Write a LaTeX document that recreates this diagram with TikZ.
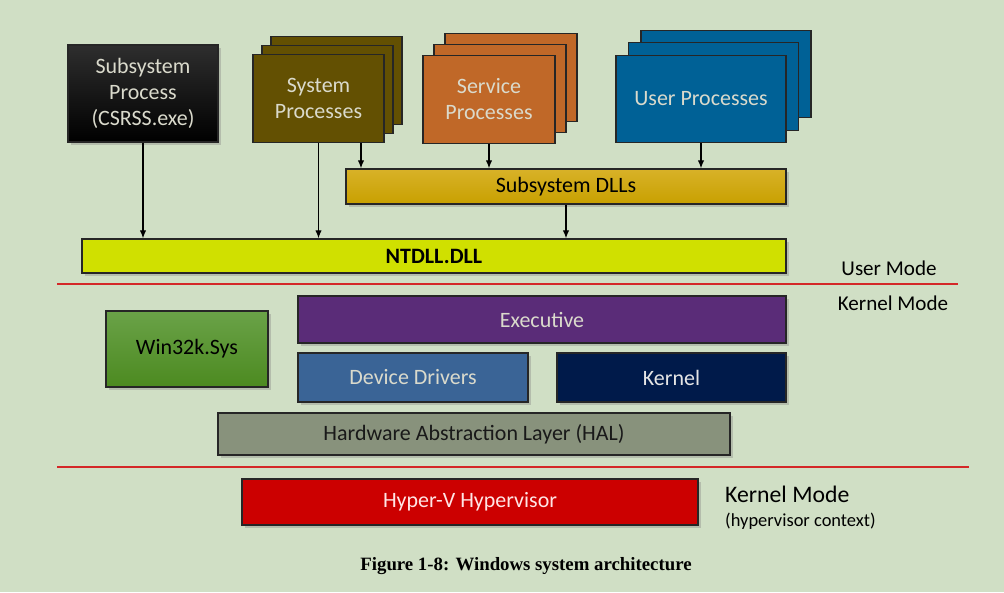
\documentclass[tikz,border=0pt]{standalone}
\usepackage{fontspec}
\setmainfont{Carlito}
\newfontfamily\capfont{Liberation Serif}
\usetikzlibrary{arrows.meta,shadows}
\definecolor{bgc}{RGB}{208,223,197}
\definecolor{txtl}{RGB}{218,218,204}
\definecolor{sysc}{RGB}{99,80,2}
\definecolor{svcc}{RGB}{192,104,40}
\definecolor{usrc}{RGB}{0,97,150}
\definecolor{dlltop}{RGB}{216,178,40}
\definecolor{dllbot}{RGB}{200,160,0}
\definecolor{ntc}{RGB}{208,224,0}
\definecolor{exec}{RGB}{90,44,120}
\definecolor{wintop}{RGB}{106,162,72}
\definecolor{winbot}{RGB}{76,138,32}
\definecolor{drvc}{RGB}{58,100,150}
\definecolor{kerc}{RGB}{0,26,74}
\definecolor{halc}{RGB}{136,146,124}
\definecolor{hypc}{RGB}{204,0,0}
\definecolor{redl}{RGB}{212,40,40}
\begin{document}
\begin{tikzpicture}[x=0.02cm, y=-0.02cm, font=\fontsize{12.5}{14.8}\selectfont,
  box/.style={draw=black!85, line width=0.8pt, inner sep=0pt, align=center, text=txtl},
  shad/.style={drop shadow={opacity=0.35, shadow xshift=1.5pt, shadow yshift=-1.5pt}},
  arr/.style={-{Latex[length=4.5pt,width=3.6pt]}, line width=0.6pt},
  sep/.style={draw=redl, line width=1.1pt},
  modelbl/.style={font=\fontsize{12}{14.4}\selectfont}]
  \fill[bgc] (0,0) rectangle (1004,592); % background

  % User mode processes
  \node[box, shad, top color=black!82, bottom color=black, minimum width=3cm, minimum height=1.94cm]
    (csrss) at (143,93.5) {Subsystem\\Process\\(CSRSS.exe)};

  % stacked copies behind the process boxes
  \foreach \n/\cx/\cy/\w/\d/\c in {sys/318.5/98.5/2.62/9/sysc, svc/489/99.5/2.64/11/svcc, usr/701/99/3.4/12.5/usrc}
    \foreach \k in {2,1}
      \node[box, fill=\c, minimum width=\w cm, minimum height=1.75cm] (\n\k) at (\cx+\k*\d, \cy-\k*\d) {};

  \node[box, fill=sysc, minimum width=2.62cm, minimum height=1.75cm] (sys) at (318.5,98.5) {System\\Processes};
  \node[box, fill=svcc, minimum width=2.64cm, minimum height=1.75cm] (svc) at (489,99.5) {Service\\Processes};
  \node[box, fill=usrc, minimum width=3.4cm, minimum height=1.75cm] (usr) at (701,99) {User Processes};

  \node[box, shad, top color=dlltop, bottom color=dllbot, text=black, minimum width=8.8cm, minimum height=0.7cm]
    (dlls) at (566,186.5) {Subsystem DLLs};
  \node[box, shad, fill=ntc, text=black, font=\fontsize{12.5}{14.8}\selectfont\bfseries, minimum width=14.08cm, minimum height=0.68cm]
    (ntdll) at (434,256) {NTDLL.DLL};

  % Calls down to the DLLs
  \draw[arr] (csrss) -- (csrss |- ntdll.north);
  \draw[arr] (sys) -- (sys |- ntdll.north);
  \draw[arr] ([xshift=0.85cm]sys.south) -- ([xshift=0.85cm]sys.south |- dlls.north);
  \draw[arr] (svc) -- (svc |- dlls.north);
  \draw[arr] (usr) -- (usr |- dlls.north);
  \draw[arr] (dlls) -- (dlls |- ntdll.north);

  % Mode boundaries
  \draw[sep] (57,284) -- (958,284);
  \draw[sep] (57,467) -- (969,467);
  \node[modelbl] (um) at (889,268) {User Mode};
  \node[modelbl] (km) at (893,303) {Kernel Mode};

  % Kernel mode parts
  \node[box, shad, fill=exec, minimum width=9.76cm, minimum height=0.94cm] (exe) at (542,319.5) {Executive};
  \node[box, shad, top color=wintop, bottom color=winbot, text=black, minimum width=3.24cm, minimum height=1.52cm]
    (win) at (187,349) {Win32k.Sys};
  \node[box, shad, fill=drvc, minimum width=4.6cm, minimum height=0.98cm] (drv) at (413,377.5) {Device Drivers};
  \node[box, shad, fill=kerc, text=white!90!black, minimum width=4.58cm, minimum height=0.98cm] (ker) at (671.5,377.5) {Kernel};
  \node[box, shad, fill=halc, text=black!90, minimum width=10.24cm, minimum height=0.84cm]
    (hal) at (474,434) {Hardware Abstraction Layer (HAL)};

  % Hypervisor
  \node[box, shad, fill=hypc, text=white!90!red, minimum width=9.12cm, minimum height=0.92cm] (hyp) at (470,502) {Hyper-V Hypervisor};
  \node[anchor=west, font=\fontsize{13.5}{16}\selectfont] (hkm) at (719,494) {Kernel Mode};
  \node[anchor=west, font=\fontsize{10.5}{12}\selectfont] (hctx) at (719,521) {(hypervisor context)};

  \node[font=\capfont\bfseries\fontsize{10.7}{12.8}\selectfont] (cap) at (526,566) {Figure 1-8: Windows system architecture};
\end{tikzpicture}
\end{document}
